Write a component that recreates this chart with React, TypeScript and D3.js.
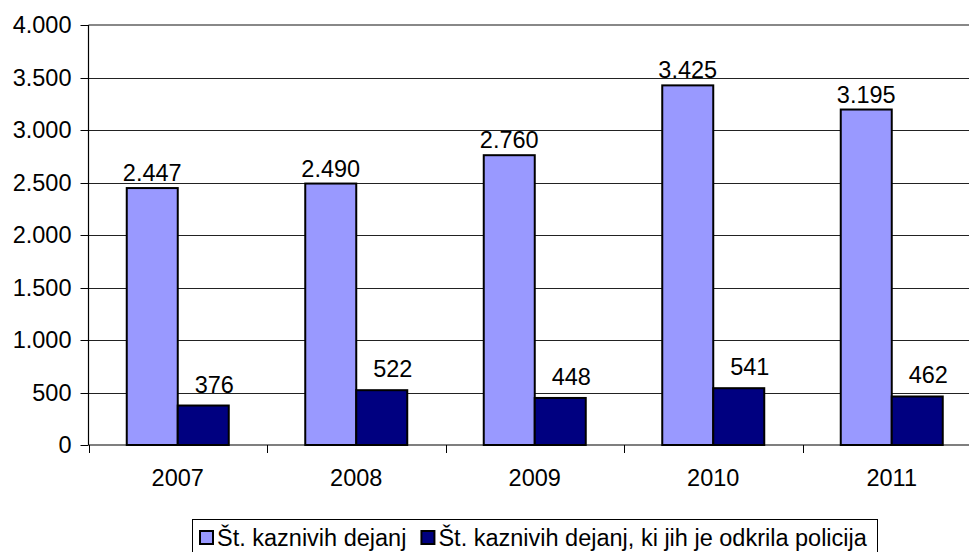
import { useEffect, useRef } from 'react';
import * as d3 from 'd3';

// podatki
const years = ['2007', '2008', '2009', '2010', '2011'];
const seriesNames = ['Št. kaznivih dejanj', 'Št. kaznivih dejanj, ki jih je odkrila policija'];
const totalCrimes = [2447, 2490, 2760, 3425, 3195];
const policeDetected = [376, 522, 448, 541, 462];
const yTicks = [0, 500, 1000, 1500, 2000, 2500, 3000, 3500, 4000];
const seriesColors = ['#9999FF', '#000080'];

const W = 969;
const H = 552;
const FONT = '"Liberation Sans", Arial, sans-serif';
const FS = '23.5px';
const fmt = (v: number) => d3.format(',')(v).replace(/,/g, '.');

export default function App() {
  const svgRef = useRef<SVGSVGElement | null>(null);

  useEffect(() => {
    const svg = d3.select(svgRef.current);
    svg.selectAll('*').remove();

    const left = 88.5;
    const top = 25;
    const bottom = 445;
    // plot area runs a bit past the right edge of the picture
    const right = left + 5 * 178.5;

    const y = d3.scaleLinear().domain([0, 4000]).range([bottom, top]);
    const x = d3.scaleBand().domain(years).range([left, right]).padding(0);
    const sideGap = 38.25;
    const xs = d3.scaleBand().domain(['a', 'b']).range([sideGap, x.bandwidth() - sideGap]).padding(0);

    const g = svg.append('g');

    // gridlines
    g.append('g')
      .selectAll('line')
      .data(yTicks.filter(t => t > 0 && t < 4000))
      .join('line')
      .attr('x1', left)
      .attr('x2', right)
      .attr('y1', d => Math.round(y(d)) + 0.5)
      .attr('y2', d => Math.round(y(d)) + 0.5)
      .attr('stroke', '#222')
      .attr('stroke-width', 1);

    // top border of plot
    g.append('line')
      .attr('x1', left).attr('x2', right)
      .attr('y1', y(4000)).attr('y2', y(4000))
      .attr('stroke', '#888')
      .attr('stroke-width', 2);

    // y axis
    const yAxis = g.append('g').attr('transform', `translate(${left},0)`);
    yAxis.append('line')
      .attr('x1', 0).attr('x2', 0)
      .attr('y1', y(4000)).attr('y2', bottom)
      .attr('stroke', '#000').attr('stroke-width', 1.2);
    yAxis.selectAll('line.tick')
      .data(yTicks)
      .join('line')
      .attr('class', 'tick')
      .attr('x1', -8).attr('x2', 0)
      .attr('y1', d => Math.round(y(d)) + 0.5)
      .attr('y2', d => Math.round(y(d)) + 0.5)
      .attr('stroke', '#000');
    yAxis.selectAll('text')
      .data(yTicks)
      .join('text')
      .attr('x', -17)
      .attr('y', d => y(d) + 8.4)
      .attr('text-anchor', 'end')
      .style('font-family', FONT)
      .style('font-size', FS)
      .text(d => fmt(d));

    // bars
    const seriesData = [totalCrimes, policeDetected];
    seriesData.forEach((vals, si) => {
      const key = si === 0 ? 'a' : 'b';
      g.append('g')
        .selectAll('rect')
        .data(vals)
        .join('rect')
        .attr('x', (_, i) => (x(years[i]) ?? 0) + (xs(key) ?? 0))
        .attr('y', d => y(d))
        .attr('width', xs.bandwidth())
        .attr('height', d => bottom - y(d))
        .attr('fill', seriesColors[si])
        .attr('stroke', '#000')
        .attr('stroke-width', 2);

      g.append('g')
        .selectAll('text')
        .data(vals)
        .join('text')
        .attr('x', (_, i) => (x(years[i]) ?? 0) + (xs(key) ?? 0) + xs.bandwidth() / 2 + (si === 0 ? 0 : 11))
        .attr('y', d => y(d) - (si === 0 ? 7 : 13))
        .attr('text-anchor', 'middle')
        .style('font-family', FONT)
        .style('font-size', FS)
        .text(d => fmt(d));
    });

    // x axis
    const xAxis = g.append('g');
    xAxis.append('line')
      .attr('x1', left).attr('x2', right)
      .attr('y1', bottom).attr('y2', bottom)
      .attr('stroke', '#000').attr('stroke-width', 1.2);
    xAxis.selectAll('line.tick')
      .data(years.map((_, i) => left + i * x.step()))
      .join('line')
      .attr('class', 'tick')
      .attr('x1', d => Math.round(d) + 0.5).attr('x2', d => Math.round(d) + 0.5)
      .attr('y1', bottom).attr('y2', bottom + 8)
      .attr('stroke', '#000');
    xAxis.selectAll('text')
      .data(years)
      .join('text')
      .attr('x', d => (x(d) ?? 0) + x.bandwidth() / 2)
      .attr('y', 486)
      .attr('text-anchor', 'middle')
      .style('font-family', FONT)
      .style('font-size', FS)
      .text(d => d);

    // legend
    const lg = svg.append('g');
    lg.append('rect')
      .attr('x', 192.5).attr('y', 519.5)
      .attr('width', 685).attr('height', 60)
      .attr('fill', '#fff')
      .attr('stroke', '#000')
      .attr('stroke-width', 1);
    let cx = 200;
    seriesNames.forEach((name, i) => {
      lg.append('rect')
        .attr('x', cx).attr('y', 531)
        .attr('width', 13).attr('height', 13)
        .attr('fill', seriesColors[i])
        .attr('stroke', '#000')
        .attr('stroke-width', 2);
      const t = lg.append('text')
        .attr('x', cx + 17)
        .attr('y', 546)
        .style('font-family', FONT)
        .style('font-size', FS)
        .text(name);
      const w = (t.node() as SVGTextElement).getComputedTextLength();
      cx = cx + 17 + w + 15;
    });
  }, []);

  return (
    <svg
      ref={svgRef}
      width={W}
      height={H}
      style={{ position: 'absolute', left: 0, top: 0, background: '#fff', display: 'block' }}
    />
  );
}
